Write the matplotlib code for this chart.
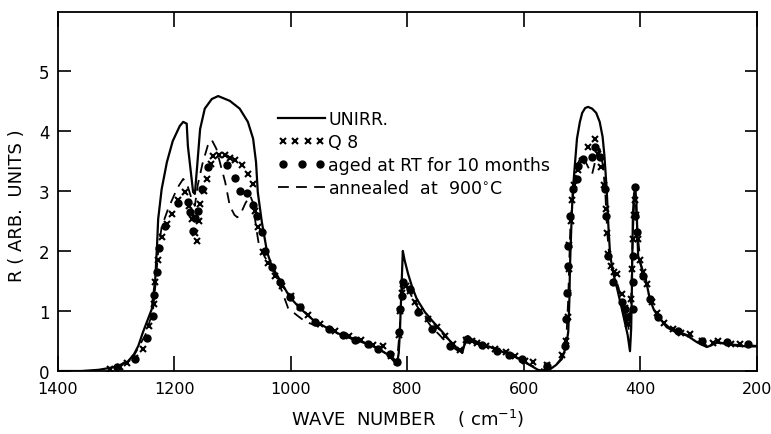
import matplotlib
matplotlib.use("Agg")
import matplotlib.pyplot as plt
from matplotlib.legend_handler import HandlerLine2D

plt.rcParams["font.family"] = ["DejaVu Sans"]

# reflectivity spectra, wave number in cm^-1
unirr_wn = [1400, 1360, 1330, 1300, 1280, 1270, 1262, 1254, 1239, 1233, 1230,
            1228, 1222, 1213, 1203, 1191, 1185, 1179, 1177, 1172, 1168, 1165,
            1161, 1156, 1148, 1136, 1125, 1105, 1088, 1074, 1065, 1060, 1057,
            1050, 1041, 1033, 1015, 1002, 985, 962, 935, 911, 890, 868, 850,
            833, 822, 818, 815, 813, 811, 809, 808, 805, 799, 792, 784, 770,
            756, 740, 727, 715, 706, 702, 696, 690, 675, 658, 640, 620, 607,
            590, 576, 567, 555, 545, 535, 528, 524, 522, 521, 519, 518, 516,
            512, 509, 504, 500, 495, 490, 483, 476, 470, 465, 462, 458, 455,
            452, 446, 440, 433, 427, 422, 418, 416, 415, 413, 411, 409, 407,
            404, 398, 392, 384, 377, 370, 362, 355, 340, 320, 303, 295, 286,
            278, 269, 255, 234, 215, 200]
unirr_r = [0.0, 0.0, 0.02, 0.07, 0.16, 0.27, 0.42, 0.65, 1.03, 1.53, 2.08,
           2.53, 3.03, 3.48, 3.83, 4.08, 4.15, 4.12, 3.75, 3.32, 2.98, 2.95,
           3.42, 4.03, 4.37, 4.53, 4.58, 4.5, 4.37, 4.15, 3.87, 3.48, 2.98,
           2.48, 1.98, 1.75, 1.45, 1.23, 1.05, 0.85, 0.7, 0.59, 0.52, 0.45,
           0.37, 0.27, 0.15, 0.12, 0.3, 0.65, 1.2, 1.7, 2.0, 1.85, 1.62, 1.4,
           1.2, 0.98, 0.82, 0.65, 0.5, 0.38, 0.3, 0.45, 0.58, 0.53, 0.46, 0.4,
           0.33, 0.26, 0.2, 0.1, 0.02, 0.0, 0.03, 0.1, 0.2, 0.4, 0.65, 1.2,
           1.75, 2.3, 2.6, 3.03, 3.5, 3.87, 4.15, 4.3, 4.38, 4.4, 4.37, 4.3,
           4.15, 3.9, 3.6, 3.03, 2.4, 1.92, 1.6, 1.37, 1.08, 0.82, 0.6, 0.33,
           0.7, 1.2, 2.6, 2.95, 3.05, 2.8, 1.92, 1.72, 1.58, 1.2, 1.02, 0.92,
           0.82, 0.73, 0.65, 0.59, 0.48, 0.44, 0.4, 0.43, 0.48, 0.46, 0.42,
           0.41, 0.41]

q8_wn = [1310, 1294, 1282, 1268, 1254, 1243, 1235, 1233, 1228, 1221, 1212,
         1204, 1194, 1182, 1175, 1170, 1165, 1161, 1158, 1156, 1150, 1144,
         1138, 1134, 1124, 1113, 1105, 1096, 1084, 1074, 1065, 1062, 1057,
         1048, 1040, 1028, 1015, 1000, 985, 970, 950, 925, 900, 880, 860, 842,
         828, 818, 814, 812, 810, 808, 803, 795, 787, 778, 765, 750, 735, 722,
         710, 700, 690, 680, 665, 650, 630, 615, 598, 584, 560, 535, 528, 525,
         524, 523, 522, 520, 518, 514, 508, 500, 490, 478, 473, 467, 462, 460,
         458, 455, 450, 445, 440, 432, 426, 423, 421, 416, 414, 413, 411, 410,
         408, 405, 400, 395, 388, 380, 372, 360, 345, 330, 315, 295, 275, 267,
         245, 229]
q8_r = [0.03, 0.07, 0.13, 0.22, 0.37, 0.75, 1.12, 1.48, 1.85, 2.23, 2.45,
        2.62, 2.85, 2.98, 2.75, 2.53, 2.3, 2.17, 2.5, 2.78, 3.0, 3.2, 3.45,
        3.58, 3.6, 3.6, 3.55, 3.52, 3.43, 3.28, 3.12, 2.67, 2.4, 1.98, 1.8,
        1.58, 1.42, 1.25, 1.07, 0.93, 0.78, 0.66, 0.58, 0.52, 0.44, 0.42,
        0.25, 0.15, 0.6, 1.0, 1.3, 1.45, 1.42, 1.33, 1.15, 1.0, 0.87, 0.73,
        0.58, 0.45, 0.35, 0.52, 0.5, 0.47, 0.42, 0.37, 0.32, 0.25, 0.17, 0.15,
        0.1, 0.27, 0.5, 0.9, 1.3, 1.7, 2.1, 2.5, 2.85, 3.1, 3.35, 3.5, 3.73,
        3.87, 3.62, 3.4, 3.1, 2.7, 2.3, 1.95, 1.75, 1.65, 1.62, 1.28, 1.05,
        0.92, 0.78, 1.2, 1.7, 2.2, 2.6, 2.85, 2.6, 2.2, 1.85, 1.65, 1.45,
        1.15, 0.97, 0.8, 0.7, 0.64, 0.62, 0.5, 0.47, 0.5, 0.45, 0.45]

aged_wn = [1299, 1268, 1247, 1237, 1235, 1230, 1226, 1216, 1194, 1177, 1173,
           1168, 1164, 1160, 1153, 1142, 1110, 1096, 1088, 1076, 1065, 1058,
           1050, 1045, 1033, 1018, 1002, 985, 959, 935, 911, 890, 868, 850,
           830, 818, 814, 812, 810, 808, 796, 782, 758, 727, 698, 672, 646,
           625, 603, 561, 530, 527, 526, 525, 524, 521, 516, 509, 507, 499,
           483, 478, 470, 461, 460, 456, 447, 432, 427, 423, 413, 413, 412,
           410, 410, 406, 396, 384, 370, 336, 294, 251, 215]
aged_r = [0.07, 0.2, 0.55, 0.92, 1.27, 1.65, 2.05, 2.42, 2.8, 2.82, 2.65,
          2.33, 2.55, 2.67, 3.03, 3.4, 3.43, 3.22, 3.0, 2.97, 2.77, 2.58, 2.32,
          2.0, 1.73, 1.48, 1.23, 1.07, 0.82, 0.7, 0.6, 0.52, 0.45, 0.37, 0.28,
          0.15, 0.65, 1.03, 1.25, 1.48, 1.37, 0.98, 0.7, 0.42, 0.53, 0.43,
          0.33, 0.27, 0.2, 0.08, 0.42, 0.87, 1.3, 1.75, 2.08, 2.58, 3.03, 3.2,
          3.42, 3.53, 3.57, 3.73, 3.57, 3.03, 2.58, 1.92, 1.48, 1.15, 1.03,
          0.9, 1.03, 1.48, 1.92, 2.58, 3.07, 2.32, 1.58, 1.2, 0.9, 0.67, 0.5,
          0.48, 0.45]

ann_wn = [1300, 1270, 1250, 1237, 1232, 1228, 1222, 1211, 1195, 1185, 1178,
          1170, 1165, 1160, 1152, 1143, 1136, 1128, 1120, 1113, 1105, 1097,
          1092, 1085, 1078, 1070, 1065, 1060, 1055, 1045, 1033, 1020, 1005,
          990, 975, 955, 930, 910, 880, 850, 830, 818, 814, 811, 808, 800, 785,
          760, 730, 708, 698, 680, 650, 620, 590, 567, 545, 533, 527, 524, 522,
          520, 515, 508, 500, 490, 483, 475, 470, 464, 460, 457, 453, 445, 438,
          430, 424, 420, 416, 414, 411, 409, 406, 400, 392, 384, 370, 350, 320,
          300, 285, 270, 240, 200]
ann_r = [0.05, 0.25, 0.6, 1.0, 1.5, 2.0, 2.4, 2.7, 3.05, 3.2, 3.1, 2.85,
         2.75, 3.1, 3.45, 3.75, 3.85, 3.7, 3.4, 3.15, 2.75, 2.6, 2.56, 2.65,
         2.8, 2.92, 2.8, 2.4, 2.1, 1.9, 1.72, 1.45, 1.05, 0.93, 0.82, 0.75,
         0.68, 0.6, 0.5, 0.37, 0.25, 0.15, 0.6, 1.1, 1.45, 1.38, 1.1, 0.75,
         0.45, 0.3, 0.52, 0.46, 0.37, 0.26, 0.1, 0.02, 0.1, 0.25, 0.6, 1.2,
         1.9, 2.5, 3.0, 3.45, 3.6, 3.4, 3.28, 3.6, 3.7, 3.4, 2.9, 2.3, 1.85,
         1.6, 1.4, 1.1, 0.85, 0.7, 1.2, 2.0, 2.8, 3.0, 2.4, 1.8, 1.55, 1.2,
         0.9, 0.72, 0.6, 0.48, 0.42, 0.47, 0.44, 0.42]

x_ticks = [1400, 1200, 1000, 800, 600, 400, 200]
y_ticks = [0, 1, 2, 3, 4, 5]

fig = plt.figure(figsize=(7.71, 4.35), dpi=100)
ax = fig.add_axes([0.0752, 0.1448, 0.9066, 0.8253])

ax.plot(unirr_wn, unirr_r, color="black", lw=1.6, label="UNIRR.")
ax.plot(q8_wn, q8_r, ls="none", marker="x", ms=4, mew=1.5,
        color="black", label="Q 8")
ax.plot(aged_wn, aged_r, ls="none", marker="o", ms=5, color="black",
        label="aged at RT for 10 months")
ax.plot(ann_wn, ann_r, color="black", lw=1.3, dashes=(6, 4),
        label="annealed  at  900$^{\\circ}$C")

ax.set_xlim(1400, 200)
ax.set_ylim(0, 5.98)
ax.set_xticks(x_ticks)
ax.set_yticks(y_ticks)
ax.tick_params(axis="x", direction="in", length=11, width=1.2,
               top=True, labelsize=11.5, pad=7)
ax.tick_params(axis="y", direction="in", length=9, width=1.2,
               right=True, labelsize=12, pad=6)
for sp in ax.spines.values():
    sp.set_linewidth(1.3)

ax.set_xlabel("WAVE  NUMBER    ( cm$^{-1}$)", fontsize=13, labelpad=8)
ax.set_ylabel("R ( ARB.  UNITS )", fontsize=13)
ax.yaxis.set_label_coords(-0.046, 0.462)

handles, labels = ax.get_legend_handles_labels()
leg = ax.legend(handles, labels, loc="upper left",
                bbox_to_anchor=(0.305, 0.745), frameon=False, fontsize=12.5,
                handlelength=2.7, handletextpad=0.2, labelspacing=0.28,
                borderaxespad=0,
                handler_map={handles[1]: HandlerLine2D(numpoints=4),
                             handles[2]: HandlerLine2D(numpoints=3)})

fig.savefig("out.png", dpi=100)
